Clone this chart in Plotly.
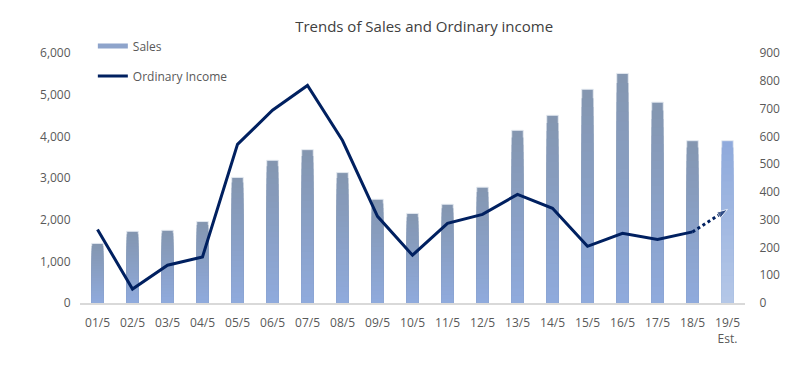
import plotly.graph_objects as go

categories = ["01/5", "02/5", "03/5", "04/5", "05/5", "06/5", "07/5", "08/5", "09/5", "10/5",
              "11/5", "12/5", "13/5", "14/5", "15/5", "16/5", "17/5", "18/5", "19/5<br>Est."]
sales = [1430, 1720, 1745, 1955, 3015, 3425, 3680, 3130, 2490, 2150,
         2370, 2780, 4145, 4505, 5130, 5510, 4820, 3895, 3895]
income_cats = categories[:18]
income = [265, 50, 136, 166, 571, 694, 783, 585, 312, 172,
          287, 319, 391, 341, 204, 251, 229, 256]
est_cats = [categories[17], categories[18]]
est_income = [256, 337]

FONT = "Open Sans"
N = 24

def lerp(c1, c2, t):
    return "rgb(%d,%d,%d)" % tuple(round(a + (b - a) * t) for a, b in zip(c1, c2))

top_main, bot_main = (0x84, 0x96, 0xB0), (0x8F, 0xAA, 0xDC)
top_est, bot_est = (0x8F, 0xAA, 0xDC), (0xB4, 0xC7, 0xE7)

fig = go.Figure()
for k in range(N):
    frac = 1 - k / N
    t = k / (N - 1)
    cols = [lerp(top_main, bot_main, t)] * 18 + [lerp(top_est, bot_est, t)]
    fig.add_trace(go.Bar(
        x=categories, y=[v * frac for v in sales],
        marker=dict(color=cols,
                    line=dict(color="rgba(230,235,242,0.9)" if k == 0 else "rgba(0,0,0,0)",
                              width=1 if k == 0 else 0)),
        width=0.33, name="Sales", showlegend=False,
        hoverinfo="skip" if k else None, yaxis="y"))

# legend entry for Sales (wide flat swatch like the reference)
fig.add_trace(go.Scatter(
    x=[None], y=[None], mode="lines", name="Sales",
    line=dict(color="#8EA4CB", width=5), legend="legend", hoverinfo="skip"))

fig.add_trace(go.Scatter(
    x=income_cats, y=income, mode="lines", name="Ordinary Income",
    line=dict(color="#002060", width=3), yaxis="y2", legend="legend2"))

fig.add_trace(go.Scatter(
    x=est_cats, y=est_income, mode="lines+markers", showlegend=False,
    line=dict(color="#002060", width=3, dash="dot"),
    marker=dict(symbol=["circle", "arrow"], size=[0, 11], angleref="previous",
                color="#002060"),
    yaxis="y2"))

fig.update_layout(
    width=808, height=369,
    margin=dict(l=72, r=71, t=45, b=74, autoexpand=False),
    paper_bgcolor="white", plot_bgcolor="white",
    barmode="overlay",
    font=dict(family=FONT, size=12, color="#595959"),
    title=dict(text="Trends of Sales and Ordinary income", x=0.515, xanchor="center",
               y=0.95, yanchor="middle", font=dict(size=15, color="#404040", family=FONT)),
    xaxis=dict(type="category", categoryorder="array", categoryarray=categories,
               showgrid=False, showline=True, linecolor="#D9D9D9", linewidth=1.5,
               ticks="outside", ticklen=8, tickcolor="rgba(0,0,0,0)",
               tickfont=dict(size=12, color="#595959"), range=[-0.5, 18.5]),
    yaxis=dict(range=[0, 6000], dtick=1000, tickformat=",", showgrid=False,
               zeroline=False, ticks="outside", ticklen=6, tickcolor="rgba(0,0,0,0)",
               tickfont=dict(size=12, color="#595959")),
    yaxis2=dict(range=[0, 900], dtick=100, overlaying="y", side="right",
                showgrid=False, zeroline=False, ticks="outside", ticklen=11,
                tickcolor="rgba(0,0,0,0)", tickfont=dict(size=12, color="#595959")),
    legend=dict(x=0.105, y=0.897, xref="container", yref="container",
                xanchor="left", yanchor="middle",
                bgcolor="rgba(0,0,0,0)", font=dict(size=12, color="#595959")),
    legend2=dict(x=0.105, y=0.816, xref="container", yref="container",
                 xanchor="left", yanchor="middle",
                 bgcolor="rgba(0,0,0,0)", font=dict(size=12, color="#595959")),
)

fig.write_html("out.html")
